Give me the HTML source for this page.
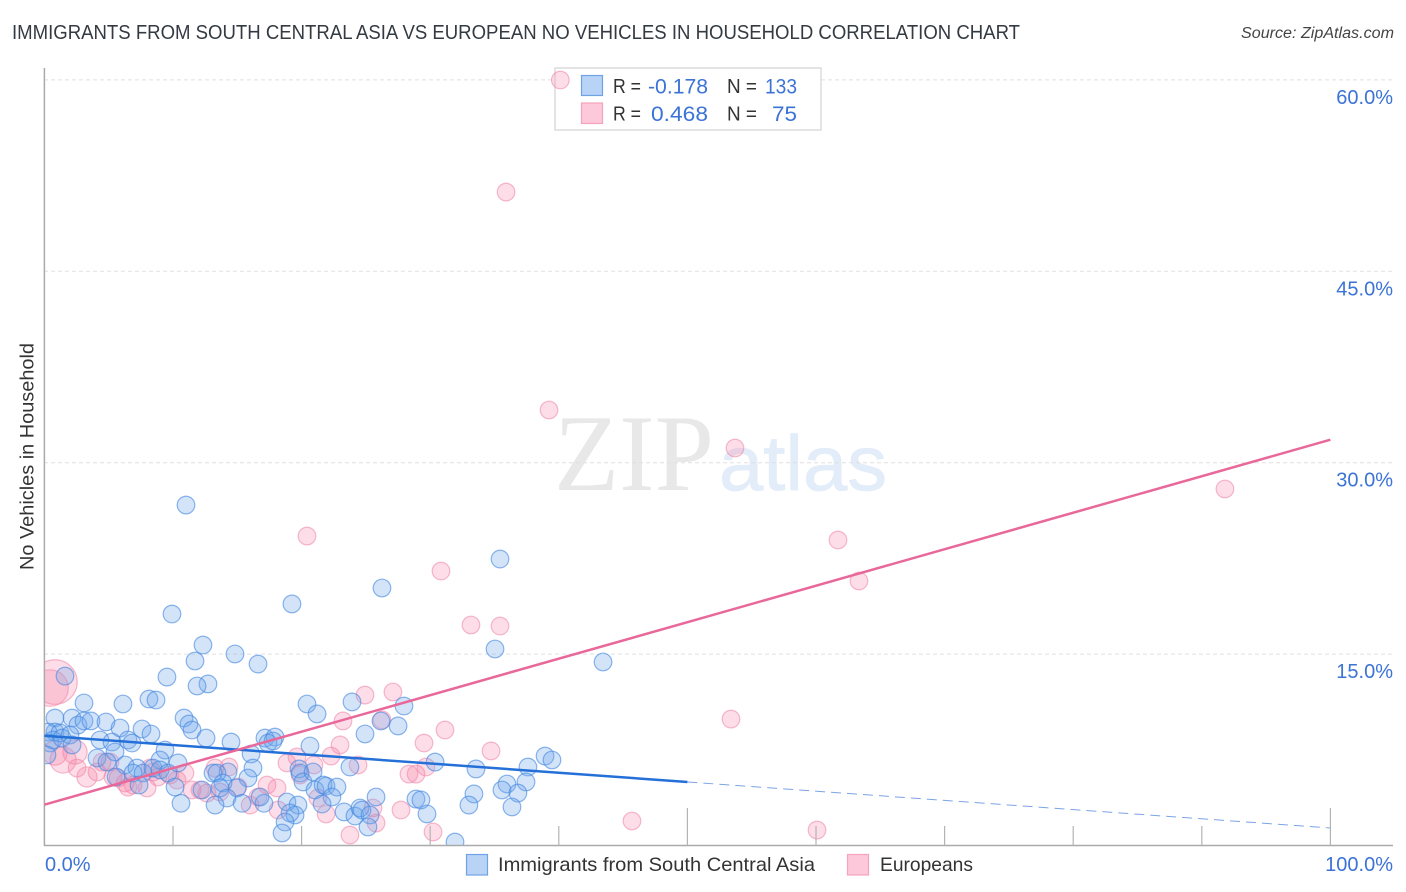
<!DOCTYPE html>
<html>
<head>
<meta charset="utf-8">
<title>Immigrants from South Central Asia vs European No Vehicles in Household Correlation Chart</title>
<style>
html,body{margin:0;padding:0;background:#fff;width:1406px;height:892px;overflow:hidden}
svg{display:block;font-family:"Liberation Sans",sans-serif}
</style>
</head>
<body>
<svg id="chart" xmlns="http://www.w3.org/2000/svg" width="1406" height="892" viewBox="0 0 1406 892">
  <text x="12" y="39" font-size="20" fill="#333a42" textLength="1008" lengthAdjust="spacingAndGlyphs">IMMIGRANTS FROM SOUTH CENTRAL ASIA VS EUROPEAN NO VEHICLES IN HOUSEHOLD CORRELATION CHART</text>
  <text x="1241" y="38" font-size="15.5" font-style="italic" fill="#444" textLength="153" lengthAdjust="spacingAndGlyphs">Source: ZipAtlas.com</text>

  <g>
    <text x="554" y="490" font-family="'Liberation Serif',serif" font-size="109" fill="#e8e8e8" textLength="160" lengthAdjust="spacingAndGlyphs">ZIP</text>
    <text x="719" y="490" font-size="78" fill="#e3ecf9" stroke="#e3ecf9" stroke-width="0.8" textLength="168" lengthAdjust="spacingAndGlyphs">atlas</text>
  </g>

  <g id="grid"></g>

  <g>
    <rect x="555" y="68" width="266" height="62" fill="#fff" stroke="#dcdcdc" stroke-width="1.5"/>
    <rect x="581.5" y="75.5" width="21" height="20" fill="#b8d3f6" stroke="#6fa3e6" stroke-width="1.2"/>
    <rect x="581.5" y="103" width="21" height="20.5" fill="#fdc8da" stroke="#f4a3bd" stroke-width="1.2"/>
    <g font-size="20" fill="#333">
      <text x="613" y="93" textLength="28" lengthAdjust="spacingAndGlyphs">R =</text>
      <text x="727" y="93" textLength="30" lengthAdjust="spacingAndGlyphs">N =</text>
      <text x="613" y="120.5" textLength="28" lengthAdjust="spacingAndGlyphs">R =</text>
      <text x="727" y="120.5" textLength="30" lengthAdjust="spacingAndGlyphs">N =</text>
    </g>
    <g font-size="21" fill="#3b73d6">
      <text x="648" y="93.5" textLength="60" lengthAdjust="spacingAndGlyphs">-0.178</text>
      <text x="765" y="93.5" textLength="32" lengthAdjust="spacingAndGlyphs">133</text>
      <text x="651" y="121" textLength="57" lengthAdjust="spacingAndGlyphs">0.468</text>
      <text x="772" y="121" textLength="25" lengthAdjust="spacingAndGlyphs">75</text>
    </g>
  </g>

  <g id="pink-points"></g>
  <g id="blue-points"></g>
  <rect x="0" y="60" width="44" height="832" fill="#fff"/>
  <rect x="0" y="846" width="1406" height="46" fill="#fff"/>
  <g id="axes"></g>
  <g id="trends"></g>
  <g id="labels"></g>

  <text transform="translate(33.5,570) rotate(-90)" font-size="19" fill="#333" textLength="227" lengthAdjust="spacingAndGlyphs">No Vehicles in Household</text>

  <g>
    <rect x="466.5" y="854.5" width="21" height="20.5" fill="#b8d3f6" stroke="#6fa3e6" stroke-width="1.2"/>
    <text x="498" y="871" font-size="19.5" fill="#333" textLength="317" lengthAdjust="spacingAndGlyphs">Immigrants from South Central Asia</text>
    <rect x="847.5" y="854.5" width="21" height="20.5" fill="#fdc8da" stroke="#f4a3bd" stroke-width="1.2"/>
    <text x="880" y="871" font-size="19.5" fill="#333" textLength="93" lengthAdjust="spacingAndGlyphs">Europeans</text>
  </g>
</svg>
<script>
const yTicks = [15, 30, 45, 60];
const yTickLabels = ['15.0%', '30.0%', '45.0%', '60.0%'];
const xMinorTicks = [10, 20, 30, 40, 60, 70, 80, 90];
const xMajorTicks = [50, 100];
const xEndLabels = ['0.0%', '100.0%'];

const immigrantX = [11.01,35.43,26.25,19.25,9.92,35.04,43.44,12.33,14.82,16.61,11.71,1.6,9.53,12.72,11.87,3.08,6.11,8.13,8.68,20.42,21.2,23.92,27.96,26.17,27.5,24.93,10.86,11.24,11.48,12.57,14.51,17.15,17.93,17.39,17.78,20.65,0.82,2.15,2.61,3.08,3.62,4.79,5.88,7.59,8.29,0.82,0.28,0.44,1.21,0.67,1.37,1.99,2.15,0.2,4.32,5.26,6.5,6.81,5.49,4.09,4.87,9.38,8.99,6.27,7.2,6.89,7.67,8.44,8.99,9.61,5.57,7.36,10.39,10.16,10.62,16.07,16.22,15.83,14.28,13.11,13.42,13.89,13.65,14.98,14.2,13.27,12.25,15.37,17.07,16.77,19.8,19.88,20.11,20.89,21.04,21.67,21.9,22.75,22.36,21.59,18.86,19.72,19.49,19.1,18.71,18.48,23.76,23.3,24.15,24.54,24.7,25.32,25.16,25.79,28.89,29.28,29.75,30.38,31.93,33.56,37.6,38.93,39.47,37.45,35.97,35.58,36.82,36.36,33.4,33.01];
const immigrantY = [26.68,22.45,20.18,18.93,18.14,15.4,14.38,15.71,15.01,14.22,14.46,13.28,13.2,12.66,12.5,11.17,11.09,11.48,11.4,11.09,10.31,11.25,10.93,9.76,9.37,8.74,9.99,9.52,9.05,8.42,8.11,8.42,8.5,8.03,8.19,7.8,9.99,9.99,9.44,9.76,9.76,9.68,9.21,9.13,8.74,8.89,8.89,8.03,8.82,8.27,8.42,8.66,7.88,7.09,8.27,8.11,8.27,8.03,7.33,6.86,6.54,7.48,6.7,6.31,6.07,5.68,5.68,6.07,5.92,5.68,5.37,4.74,6.47,4.58,3.31,7.17,6.07,5.29,5.76,5.68,5.68,4.9,4.51,4.51,3.72,3.17,4.35,3.31,3.31,3.8,6.0,5.68,4.98,5.76,4.35,4.74,4.66,4.58,3.8,3.25,3.41,3.17,2.39,2.55,1.84,0.98,6.15,2.63,2.31,2.94,2.78,2.39,1.45,3.8,3.64,3.57,2.47,6.54,0.27,6.0,6.15,7.01,6.7,4.98,4.82,4.35,4.11,3.02,4.04,3.17];

const europeanX = [40.12,35.9,39.24,53.7,91.8,61.71,63.34,20.42,30.84,33.17,
35.43,53.39,45.69,60.08,30.22,23.76,0.82,0.44,24.93,27.1,
26.25,23.22,31.15,29.52,34.73,24.39,28.35,28.9,29.67,27.73,
25.55,25.79,22.99,22.29,19.64,18.86,20.96,19.88,21.27,21.9,
18.17,16.0,16.61,17.31,18.09,15.05,13.27,14.35,13.65,11.48,
12.1,12.64,10.93,10.31,9.77,8.83,7.98,6.89,6.27,5.33,
8.44,8.21,5.1,4.48,4.09,3.31,2.54,2.38,1.45,0.82,
5.72,6.5];
const europeanY = [59.99,51.21,34.13,31.15,27.94,23.94,20.73,24.25,21.51,17.28,
17.2,9.91,1.92,1.21,1.06,0.82,12.81,12.34,11.79,12.03,
9.84,9.76,9.05,8.03,7.41,6.31,5.6,5.6,6.15,2.78,
2.94,1.76,7.88,7.01,6.94,6.47,6.31,5.53,3.72,2.47,
2.78,3.17,3.8,4.74,4.51,4.58,6.07,6.15,4.19,4.35,
4.35,4.11,5.68,5.13,5.53,5.37,4.51,4.74,4.9,5.37,
5.76,6.07,6.54,6.54,5.76,5.37,6.07,7.33,6.7,7.25,
5.29,4.58];
const europeanWeight = [1,1,1,1,1,1,1,1,1,1,
1,1,1,1,1,1,6.4,4.3,1,1,
1,1,1,1,1,1,1,1,1,1,
1,1,1,1,1,1,1,1,1,1,
1,1,1,1,1,1,1,1,1,1,
1,1,1,1,1,1,1,1,1,1,
1,1,1,1,1,1.3,1,1.9,2.2,1.9,
1,1];

const immigrantTrendStart = [0, 8.6];
const immigrantTrendSolidEnd = [50, 4.98];
const immigrantTrendDashEnd = [100, 1.37];
const europeanTrendStart = [0, 3.2];
const europeanTrendEnd = [100, 31.8];

const SVGNS = 'http://www.w3.org/2000/svg';
function xScale(v) { return 44.4 + v * 12.86; }
function yScale(v) { return 845.5 - v * 12.76; }
function radius(w) { return 8.8 * Math.sqrt(w); }
function make(tag, parentId) {
  const el = document.createElementNS(SVGNS, tag);
  document.getElementById(parentId).appendChild(el);
  return el;
}
function setAll(el, attrs) {
  for (const k in attrs) el.setAttribute(k, attrs[k]);
}

yTicks.forEach(function (t) {
  const el = make('line', 'grid');
  
  
  setAll(el, {x1: 44, x2: 1393, y1: yScale(t), y2: yScale(t), stroke: '#e0e0e0', 'stroke-width': 1, 'stroke-dasharray': '4 3'});
});

europeanX.forEach(function (v, i) {
  const el = make('circle', 'pink-points');
  
  
  setAll(el, {cx: xScale(v), cy: yScale(europeanY[i]), r: radius(europeanWeight[i]), fill: 'rgba(246,130,165,0.27)', stroke: 'rgba(240,135,170,0.58)', 'stroke-width': 1.2});
});

immigrantX.forEach(function (v, i) {
  const el = make('circle', 'blue-points');
  
  
  setAll(el, {cx: xScale(v), cy: yScale(immigrantY[i]), r: 8.8, fill: 'rgba(110,165,235,0.3)', stroke: 'rgba(70,135,225,0.62)', 'stroke-width': 1.2});
});

const leftAxis = make('line', 'axes');


setAll(leftAxis, {x1: 44.4, x2: 44.4, y1: 68, y2: 846, stroke: '#aaaaaa', 'stroke-width': 1.5});

const bottomAxis = make('line', 'axes');


setAll(bottomAxis, {x1: 44, x2: 1393, y1: 845.5, y2: 845.5, stroke: '#aaaaaa', 'stroke-width': 1.5});

xMinorTicks.forEach(function (t) {
  const el = make('line', 'axes');
  
  
  setAll(el, {x1: xScale(t), x2: xScale(t), y1: 826, y2: 845.5, stroke: '#b4b4b4', 'stroke-width': 1.2});
});

xMajorTicks.forEach(function (t) {
  const el = make('line', 'axes');
  
  
  setAll(el, {x1: xScale(t), x2: xScale(t), y1: 808, y2: 845.5, stroke: '#b4b4b4', 'stroke-width': 1.2});
});

const blueSolid = make('line', 'trends');


setAll(blueSolid, {x1: xScale(immigrantTrendStart[0]), y1: yScale(immigrantTrendStart[1]), x2: xScale(immigrantTrendSolidEnd[0]), y2: yScale(immigrantTrendSolidEnd[1]), stroke: '#2470d8', 'stroke-width': 2.5});

const blueDash = make('line', 'trends');


setAll(blueDash, {x1: xScale(immigrantTrendSolidEnd[0]), y1: yScale(immigrantTrendSolidEnd[1]), x2: xScale(immigrantTrendDashEnd[0]), y2: yScale(immigrantTrendDashEnd[1]), stroke: '#7ba4e3', 'stroke-width': 1, 'stroke-dasharray': '10 6'});

const pinkTrend = make('line', 'trends');


setAll(pinkTrend, {x1: xScale(europeanTrendStart[0]), y1: yScale(europeanTrendStart[1]), x2: xScale(europeanTrendEnd[0]), y2: yScale(europeanTrendEnd[1]), stroke: '#e9689a', 'stroke-width': 2.5});

yTickLabels.forEach(function (label, i) {
  const el = make('text', 'labels');
  
  
  setAll(el, {x: 1393, y: yScale(yTicks[i]) + 24, 'text-anchor': 'end', 'font-size': 20, fill: '#3b73d6'});
  el.textContent = label;
});

const xStart = make('text', 'labels');


setAll(xStart, {x: 45, y: 871, 'font-size': 20, fill: '#3b73d6'});
xStart.textContent = xEndLabels[0];

const xEnd = make('text', 'labels');


setAll(xEnd, {x: 1393, y: 871, 'text-anchor': 'end', 'font-size': 20, fill: '#3b73d6'});
xEnd.textContent = xEndLabels[1];
</script>
</body>
</html>
